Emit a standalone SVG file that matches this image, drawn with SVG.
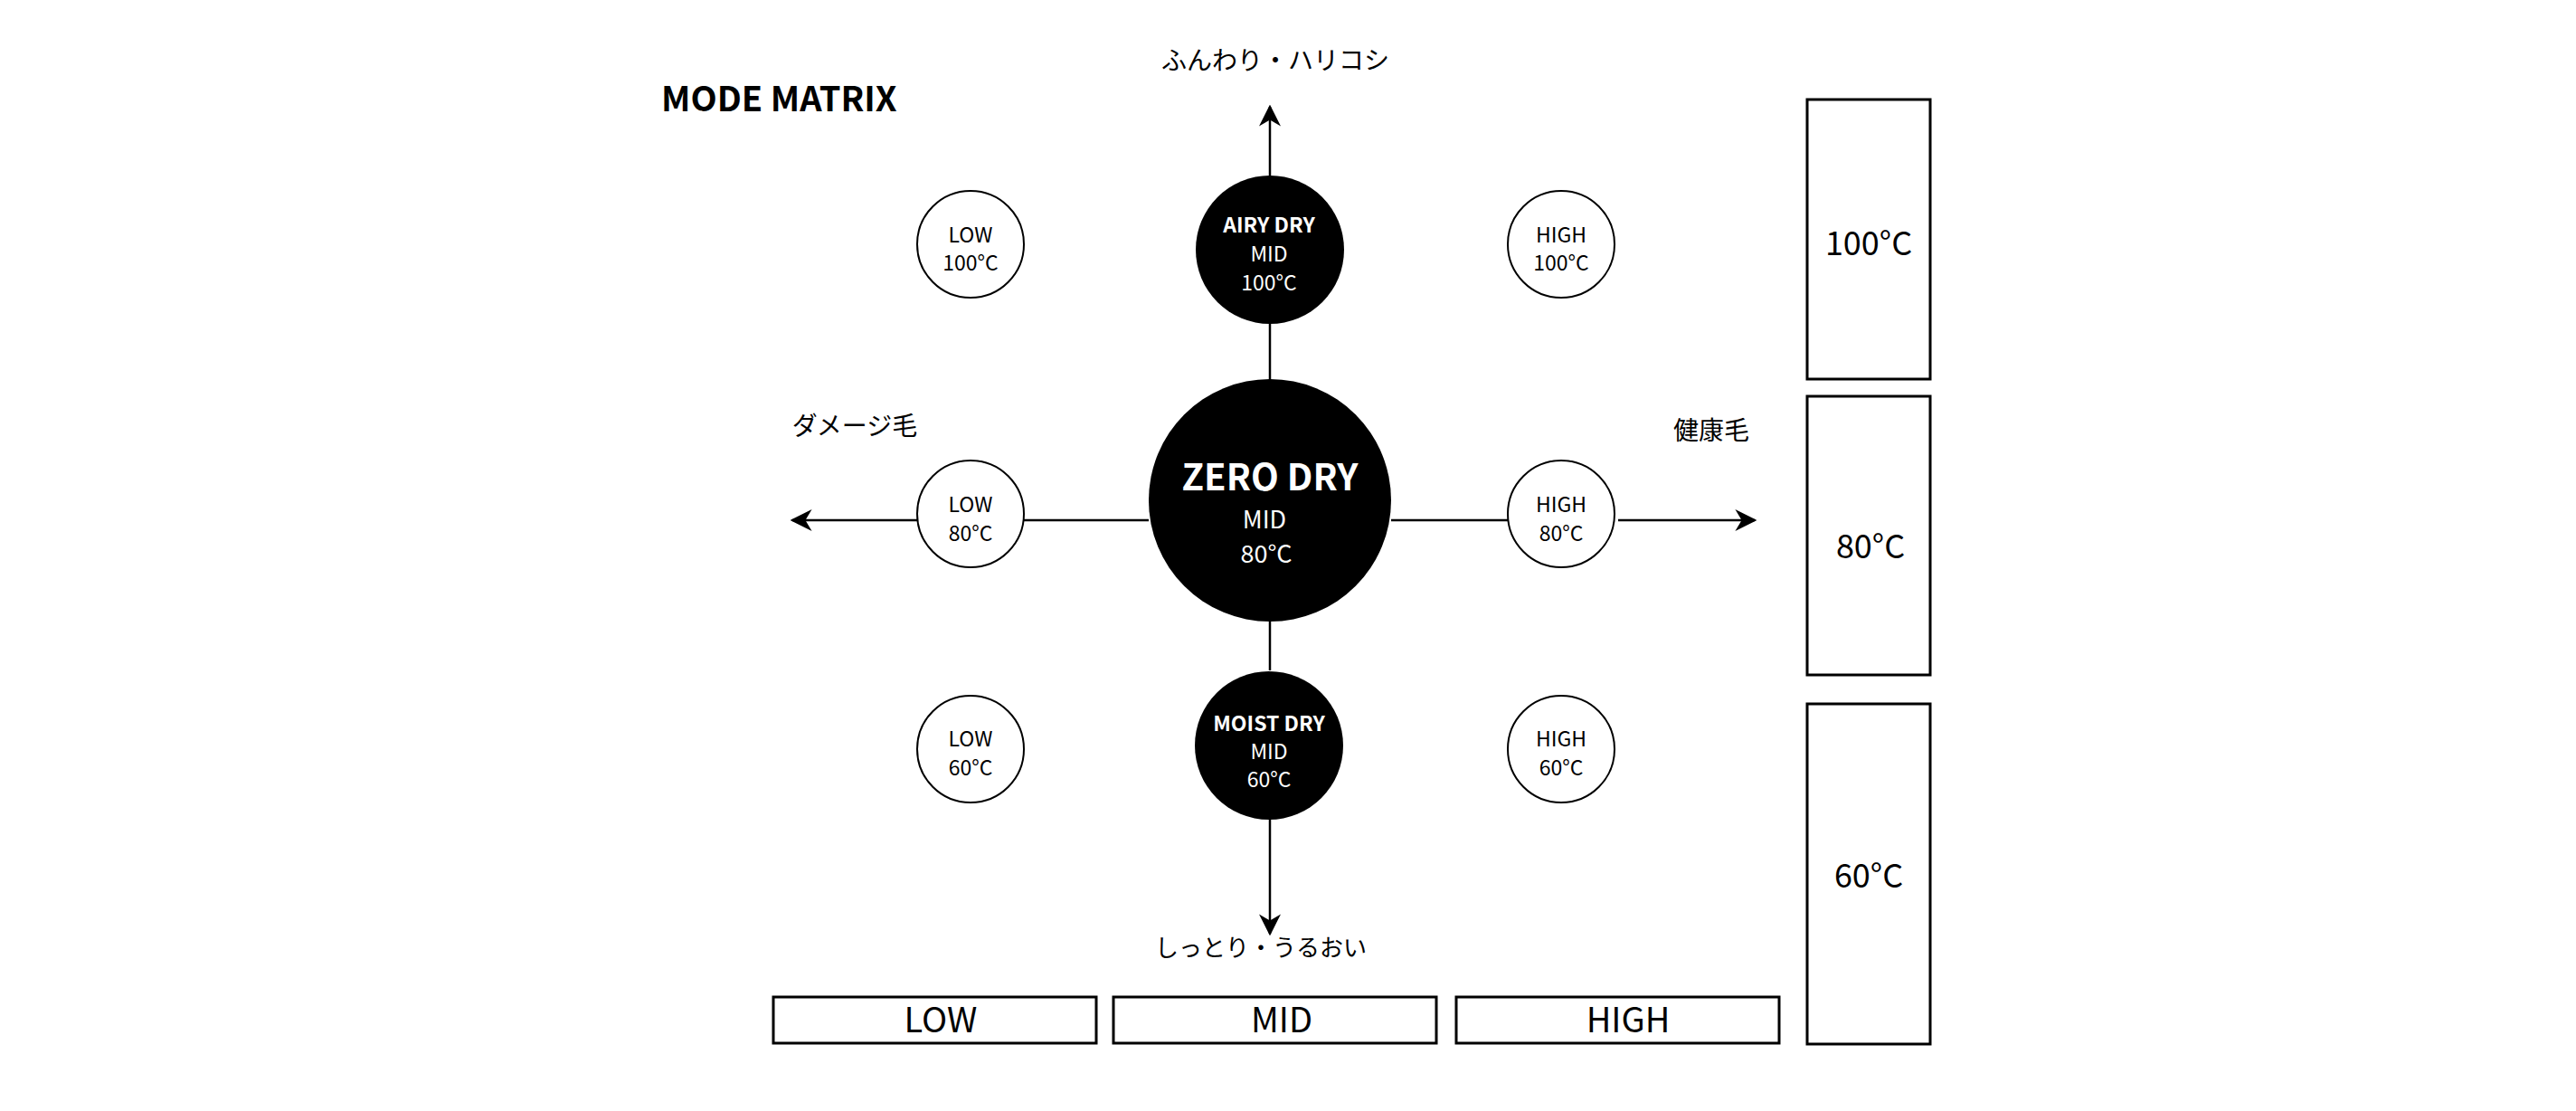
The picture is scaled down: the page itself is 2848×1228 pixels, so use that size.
<svg xmlns="http://www.w3.org/2000/svg" width="2848" height="1228" viewBox="0 0 2848 1228">
<style>
text{font-family:"Noto Sans CJK JP","Liberation Sans",sans-serif;text-anchor:middle;fill:#000}
.w{fill:#fff}
.b{font-weight:bold}
.s{font-size:23px}
.oc{fill:#fff;stroke:#000;stroke-width:2}
.bx{fill:#fff;stroke:#000;stroke-width:3}
.ln{stroke:#000;stroke-width:2.5;fill:none}
</style>
<defs>
<marker id="m" viewBox="0 0 10 10" refX="9" refY="5" markerWidth="24" markerHeight="24" markerUnits="userSpaceOnUse" orient="auto"><path d="M0,0L10,5L0,10L3,5z" fill="#000"/></marker></defs>
<text x="731" y="123" class="b" style="text-anchor:start;font-size:38px">MODE MATRIX</text>
<g id="connectors">
<line class="ln" x1="1404" y1="194" x2="1404" y2="118" marker-end="url(#m)"/>
<line class="ln" x1="1404" y1="357" x2="1404" y2="421"/>
<line class="ln" x1="1404" y1="687" x2="1404" y2="741"/>
<line class="ln" x1="1404" y1="905" x2="1404" y2="1032" marker-end="url(#m)"/>
<line class="ln" x1="1014" y1="575" x2="876" y2="575" marker-end="url(#m)"/>
<line class="ln" x1="1132" y1="575" x2="1270" y2="575"/>
<line class="ln" x1="1538" y1="575" x2="1672" y2="575"/>
<line class="ln" x1="1789" y1="575" x2="1940" y2="575" marker-end="url(#m)"/>
</g>
<text x="1410" y="77" style="font-size:28px">ふんわり・ハリコシ</text>
<text x="1394" y="1057" style="font-size:26px">しっとり・うるおい</text>
<text x="945" y="481" style="font-size:28px">ダメージ毛</text>
<text x="1892" y="486" style="font-size:28px">健康毛</text>
<g id="zero"><circle cx="1404" cy="553" r="134"/><text class="w b" x="1404" y="542" style="font-size:40px">ZERO DRY</text><text class="w" x="1398" y="584" style="font-size:27px">MID</text><text class="w" x="1400" y="622" style="font-size:27px">80°C</text></g>
<g id="airy"><circle cx="1404" cy="276" r="82"/><text class="w b s" x="1403" y="257">AIRY DRY</text><text class="w s" x="1403" y="289">MID</text><text class="w s" x="1403" y="321">100°C</text></g>
<g id="moist"><circle cx="1403" cy="824" r="82"/><text class="w b s" x="1403" y="808">MOIST DRY</text><text class="w s" x="1403" y="839">MID</text><text class="w s" x="1403" y="870">60°C</text></g>
<g id="low100"><circle class="oc" cx="1073" cy="270" r="59"/><text class="s" x="1073" y="268">LOW</text><text class="s" x="1073" y="299">100°C</text></g>
<g id="high100"><circle class="oc" cx="1726" cy="270" r="59"/><text class="s" x="1726" y="268">HIGH</text><text class="s" x="1726" y="299">100°C</text></g>
<g id="low80"><circle class="oc" cx="1073" cy="568" r="59"/><text class="s" x="1073" y="566">LOW</text><text class="s" x="1073" y="598">80°C</text></g>
<g id="high80"><circle class="oc" cx="1726" cy="568" r="59"/><text class="s" x="1726" y="566">HIGH</text><text class="s" x="1726" y="598">80°C</text></g>
<g id="low60"><circle class="oc" cx="1073" cy="828" r="59"/><text class="s" x="1073" y="825">LOW</text><text class="s" x="1073" y="857">60°C</text></g>
<g id="high60"><circle class="oc" cx="1726" cy="828" r="59"/><text class="s" x="1726" y="825">HIGH</text><text class="s" x="1726" y="857">60°C</text></g>
<g id="boxLow"><rect class="bx" x="855" y="1102" width="357" height="51"/><text x="1040" y="1141" style="font-size:38px">LOW</text></g>
<g id="boxMid"><rect class="bx" x="1231" y="1102" width="357" height="51"/><text x="1417" y="1141" style="font-size:38px">MID</text></g>
<g id="boxHigh"><rect class="bx" x="1610" y="1102" width="357" height="51"/><text x="1800" y="1141" style="font-size:38px">HIGH</text></g>
<g id="box100"><rect class="bx" x="1998" y="110" width="136" height="309"/><text x="2066" y="282" style="font-size:36px">100°C</text></g>
<g id="box80"><rect class="bx" x="1998" y="438" width="136" height="308"/><text x="2068" y="617" style="font-size:36px">80°C</text></g>
<g id="box60"><rect class="bx" x="1998" y="778" width="136" height="376"/><text x="2066" y="981" style="font-size:36px">60°C</text></g>
</svg>
